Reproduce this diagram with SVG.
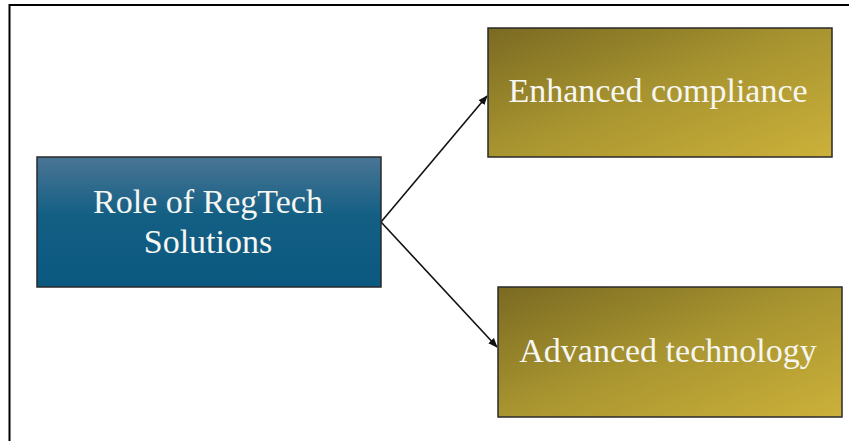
<svg xmlns="http://www.w3.org/2000/svg" width="849" height="441" viewBox="0 0 849 441">
<defs>
<linearGradient id="blue" x1="0" y1="0" x2="0" y2="1">
<stop offset="0" stop-color="#4a7595"/>
<stop offset="0.45" stop-color="#135f84"/>
<stop offset="1" stop-color="#0b5880"/>
</linearGradient>
<linearGradient id="gold" x1="0" y1="0" x2="1" y2="1">
<stop offset="0" stop-color="#7a6a22"/>
<stop offset="0.5" stop-color="#a99530"/>
<stop offset="1" stop-color="#ccb13a"/>
</linearGradient>
<marker id="arr" viewBox="0 0 10 10" refX="9" refY="5" markerWidth="6" markerHeight="6" orient="auto" markerUnits="strokeWidth">
<path d="M0,1 L10,5 L0,9 Z" fill="#111"/>
</marker>
</defs>
<style>
.box{stroke:#2a2a2a;stroke-width:1.5}
.lbl{font-family:"Liberation Serif","Times New Roman",serif;font-size:34px;fill:#f6f6f2;text-anchor:middle}
.con{stroke:#111;stroke-width:1.6;fill:none}
</style>
<rect width="849" height="441" fill="#fff"/>
<path d="M9.5,441 V5 H849" fill="none" stroke="#000" stroke-width="2"/>
<g id="connectors">
<line class="con" x1="381" y1="222" x2="487" y2="96" marker-end="url(#arr)"/>
<line class="con" x1="381" y1="222" x2="497" y2="347" marker-end="url(#arr)"/>
</g>
<g id="role">
<rect class="box" x="37" y="157" width="344" height="130" fill="url(#blue)"/>
<text class="lbl" x="208" y="212.5">Role of RegTech</text>
<text class="lbl" x="208" y="253">Solutions</text>
</g>
<g id="enhanced">
<rect class="box" x="488" y="28" width="344" height="129" fill="url(#gold)"/>
<text class="lbl" x="658" y="102">Enhanced compliance</text>
</g>
<g id="advanced">
<rect class="box" x="498" y="287" width="344" height="130" fill="url(#gold)"/>
<text class="lbl" x="668" y="362">Advanced technology</text>
</g>
</svg>
